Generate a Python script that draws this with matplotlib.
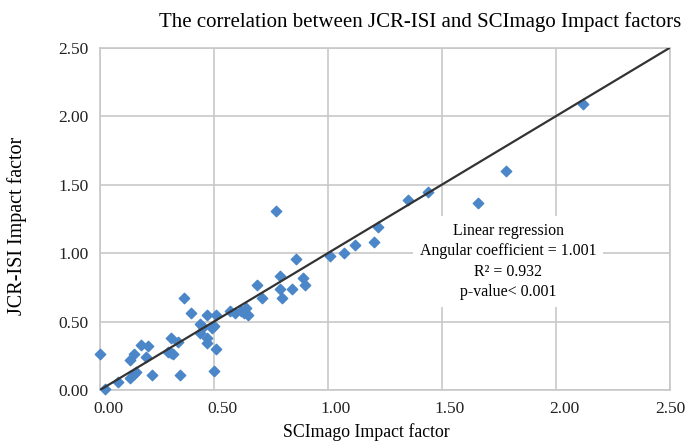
import numpy as np
import matplotlib.pyplot as plt
from matplotlib.transforms import ScaledTranslation

# SCImago (x) vs JCR-ISI (y) impact factors
scimago = np.array([0.00, 0.02, 0.08, 0.13, 0.15, 0.16, 0.13, 0.15, 0.18, 0.21,
                    0.20, 0.23, 0.31, 0.30, 0.32, 0.31, 0.34, 0.35, 0.37, 0.40,
                    0.44, 0.45, 0.44, 0.47, 0.47, 0.49, 0.50, 0.47, 0.51, 0.51,
                    0.50, 0.57, 0.59, 0.62, 0.64, 0.65, 0.63, 0.69, 0.71, 0.77,
                    0.79, 0.79, 0.80, 0.84, 0.86, 0.89, 0.90, 1.01, 1.07, 1.12,
                    1.20, 1.22, 1.35, 1.44, 1.66, 1.78, 2.12])
jcr = np.array([0.26, 0.01, 0.06, 0.09, 0.12, 0.13, 0.22, 0.26, 0.33, 0.32,
                0.24, 0.11, 0.38, 0.28, 0.26, 0.27, 0.35, 0.11, 0.67, 0.56,
                0.48, 0.46, 0.42, 0.38, 0.34, 0.45, 0.47, 0.55, 0.55, 0.30,
                0.14, 0.58, 0.56, 0.58, 0.60, 0.55, 0.56, 0.77, 0.67, 1.31,
                0.83, 0.74, 0.67, 0.74, 0.96, 0.82, 0.77, 0.98, 1.00, 1.06,
                1.08, 1.19, 1.39, 1.45, 1.37, 1.60, 2.09])

slope = 1.001
intercept = 0.0
ticks = [0.0, 0.5, 1.0, 1.5, 2.0, 2.5]

plt.rcParams['font.family'] = ['Liberation Serif', 'DejaVu Serif']

fig = plt.figure(figsize=(6.88, 4.44), dpi=100)
ax = fig.add_axes([100 / 688, 54 / 444, 570 / 688, 342 / 444])

ax.scatter(scimago, jcr, marker='D', s=28, color='#4a86c8', zorder=3, clip_on=False)

xs = np.array([0.0, 2.5])
ax.plot(xs, intercept + slope * xs, color='#333333', lw=1.6, zorder=4)

ax.set_xlim(0, 2.5)
ax.set_ylim(0, 2.5)
ax.set_xticks(ticks)
ax.set_yticks(ticks)
ax.set_xticklabels([f'{t:.2f}' for t in ticks], fontsize=12.5)
ax.set_yticklabels([f'{t:.2f}' for t in ticks], fontsize=12.5)
ax.tick_params(length=0, pad=8, colors='#222222')
# x tick labels sit a little right of their gridlines in the original
shift = ScaledTranslation(8 / 100, 0, fig.dpi_scale_trans)
for lab in ax.get_xticklabels()[:-1]:
    lab.set_transform(lab.get_transform() + shift)
ax.grid(True, color='#c8c8c8', lw=1.2)
ax.set_axisbelow(True)
for s in ax.spines.values():
    s.set_color('#c8c8c8')
    s.set_linewidth(1.2)

ax.set_xlabel('SCImago Impact factor', fontsize=12.8)
ax.xaxis.set_label_coords(266 / 570, -0.098)
ax.set_ylabel('JCR-ISI Impact factor', fontsize=14.5)
ax.yaxis.set_label_coords(-0.128, 0.48)

ax.text(1.79, 0.94,
        'Linear regression\nAngular coefficient = 1.001\nR\u00b2 = 0.932\np-value< 0.001',
        ha='center', va='center', fontsize=11.4, linespacing=1.37, zorder=5,
        bbox=dict(facecolor='white', edgecolor='none', pad=5))

fig.text(420 / 688, 1 - 22 / 444, 'The correlation between JCR-ISI and SCImago Impact factors',
         ha='center', va='center', fontsize=15)

fig.savefig('out.png', dpi=100)
